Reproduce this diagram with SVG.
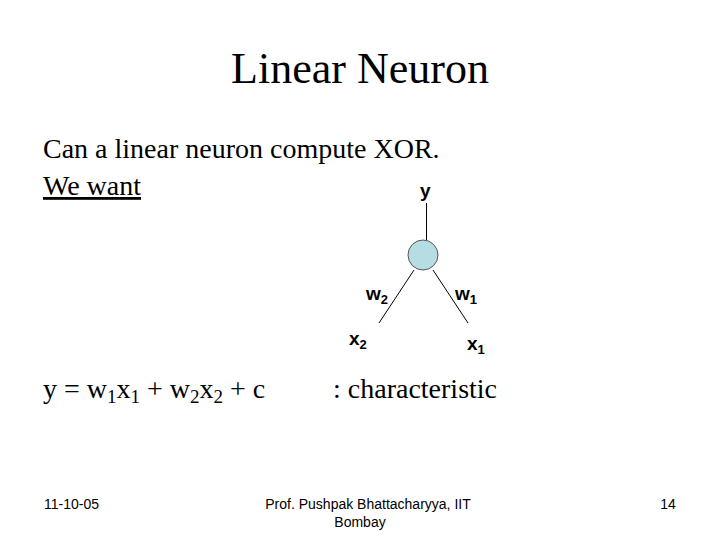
<svg xmlns="http://www.w3.org/2000/svg" width="720" height="540" viewBox="0 0 720 540">
<style>
.serif{font-family:"Liberation Serif","Times New Roman",serif;fill:#000}
.sans{font-family:"Liberation Sans",Arial,sans-serif;fill:#000}
.lbl{font-family:"Liberation Sans",Arial,sans-serif;font-size:19px;font-weight:bold;fill:#000}
.sub{font-size:13px}
.foot{font-family:"Liberation Sans",Arial,sans-serif;font-size:14px;fill:#000}
.edge{stroke:#000;stroke-width:1;fill:none}
</style>
<rect width="720" height="540" fill="#fff"/>
<text class="serif" x="360" y="83" font-size="44" text-anchor="middle">Linear Neuron</text>
<text class="serif" x="43" y="158" font-size="28">Can a linear neuron compute XOR.</text>
<text class="serif" x="43" y="195" font-size="28" text-decoration="underline">We want</text>
<g id="connectors">
<line class="edge" x1="426.5" y1="203" x2="426.5" y2="240"/>
<line class="edge" x1="414" y1="270" x2="379" y2="323"/>
<line class="edge" x1="433" y1="270" x2="468" y2="323"/>
</g>
<g id="neuron">
<circle cx="423" cy="255" r="15" fill="#b6dde3" stroke="#555" stroke-width="1"/>
</g>
<g id="label-y"><text class="lbl" x="420" y="197">y</text></g>
<g id="label-w2"><text class="lbl" x="366" y="300">w<tspan class="sub" dy="4">2</tspan></text></g>
<g id="label-w1"><text class="lbl" x="455" y="300">w<tspan class="sub" dy="4">1</tspan></text></g>
<g id="label-x2"><text class="lbl" x="349" y="345">x<tspan class="sub" dy="4">2</tspan></text></g>
<g id="label-x1"><text class="lbl" x="467" y="350">x<tspan class="sub" dy="4">1</tspan></text></g>
<text class="serif" x="43" y="398" font-size="28">y = w<tspan font-size="19" dy="5">1</tspan><tspan dy="-5">x</tspan><tspan font-size="19" dy="5">1</tspan><tspan dy="-5"> + w</tspan><tspan font-size="19" dy="5">2</tspan><tspan dy="-5">x</tspan><tspan font-size="19" dy="5">2</tspan><tspan dy="-5"> + c</tspan></text>
<text class="serif" x="333" y="398" font-size="28">: characteristic</text>
<text class="foot" x="44" y="509">11-10-05</text>
<text class="foot" x="368" y="509" text-anchor="middle">Prof. Pushpak Bhattacharyya, IIT</text>
<text class="foot" x="360" y="527" text-anchor="middle">Bombay</text>
<text class="foot" x="668" y="509" text-anchor="middle">14</text>
</svg>
